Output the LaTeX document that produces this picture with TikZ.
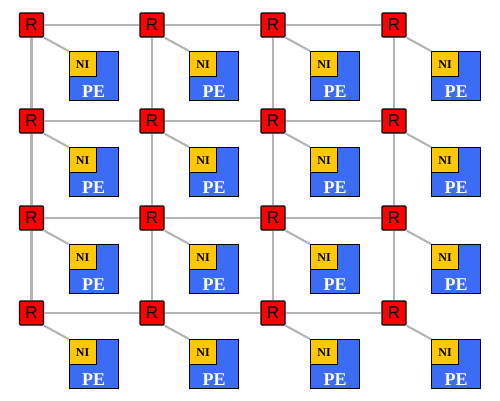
\documentclass[tikz,border=0pt]{standalone}
\usepackage{fontspec}
\setmainfont{Liberation Serif}
\newfontfamily\rfont{Liberation Sans}
\definecolor{rred}{RGB}{255,0,0}
\definecolor{peblue}{RGB}{59,108,245}
\definecolor{nigold}{RGB}{255,200,0}
\definecolor{linkgrey}{RGB}{180,180,180}
\tikzset{
  router/.style={draw=black, line width=1.3pt, fill=rred, rounded corners=1pt,
    minimum width=24pt, minimum height=24pt, inner sep=0pt,
    font=\rfont\fontsize{17}{17}\selectfont},
  pebox/.style={draw=black, line width=1.3pt, fill=peblue, minimum width=49pt,
    minimum height=49pt, inner sep=0pt, anchor=north west},
  nibox/.style={draw=black, line width=1.3pt, fill=nigold, minimum width=27pt,
    minimum height=25pt, inner sep=0pt, anchor=north west,
    font=\bfseries\fontsize{12}{12}\selectfont},
  petext/.style={text=white, inner sep=0pt, font=\bfseries\fontsize{18}{18}\selectfont},
  link/.style={draw=linkgrey, line width=2.1pt}
}
\begin{document}
\begin{tikzpicture}[x=1pt,y=-1pt]
\useasboundingbox (0,0) rectangle (500,400);
\def\xs{{31.5,152,273,394}}
\def\ys{{25,121,218,313}}
\foreach \i in {0,...,3}{
  \foreach \j in {0,...,3}{
    \pgfmathsetmacro\xx{\xs[\j]}
    \pgfmathsetmacro\yy{\ys[\i]}
    \node[router] (R\i\j) at (\xx,\yy) {R};
    \node[pebox] (PE\i\j) at (\xx+37,\yy+26) {};
    \node[nibox] (NI\i\j) at (PE\i\j.north west) {NI};
    \node[petext] (PT\i\j) at ([yshift=-15.5pt]PE\i\j.center) {PE};
  }
}
\foreach \i in {0,...,3}{
  \foreach \j/\k in {0/1,1/2,2/3}{
    \draw[link] (R\i\j) -- (R\i\k);
    \draw[link] (R\j\i) -- (R\k\i);
  }
  \foreach \j in {0,...,3}{
    \draw[link] (R\i\j.south east) -- (NI\i\j.north west);
  }
}
\end{tikzpicture}
\end{document}
